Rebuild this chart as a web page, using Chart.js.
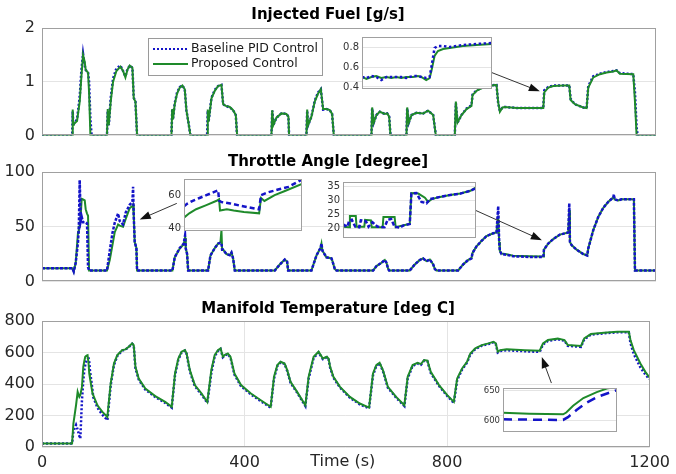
<!DOCTYPE html>
<html>
<head>
<meta charset="utf-8">
<script src="https://cdn.jsdelivr.net/npm/chart.js@4.4.1/dist/chart.umd.min.js"></script>
<style>
body{margin:0;background:#fff;}
#wrap{position:relative;width:676px;height:474px;overflow:hidden;background:#fff;}
canvas{position:absolute;}
</style>
</head>
<body>
<div id="wrap">
<canvas id="fuel" width="676" height="152" style="left:0;top:0"></canvas>
<canvas id="throttle" width="676" height="148" style="left:0;top:150px"></canvas>
<canvas id="temp" width="676" height="176" style="left:0;top:298px"></canvas>
<canvas id="fuelZoom" width="166" height="70" style="left:330px;top:28px"></canvas>
<canvas id="thrZoomA" width="146" height="70" style="left:160px;top:170px"></canvas>
<canvas id="thrZoomB" width="161" height="74" style="left:319px;top:173px"></canvas>
<canvas id="tempZoom" width="150" height="60" style="left:471px;top:380px"></canvas>
</div>
<script>
// ---- injected fuel [g/s]
let fuelTime = [0,59,60,61,62,68.5,73.7,76.9,80.2,83.5,85.4,90,92,94.6,97,
  127,128.5,130.5,134.3,138.9,145.4,153.2,158.4,163,166.9,171.4,176.7,179.3,182.6,185.8,
  253,254.5,256,259.4,264,269.2,274.4,279,282.2,286.2,290.1,
  322.7,324,325.5,331.2,337.7,344.2,350.7,354,359.2,367,373.5,378.7,381.3,
  448.4,450,452,458.2,468,477.7,481.6,482.9,
  516.8,518.3,520,526.6,533.1,539.6,544.9,549.4,556,562.5,567,570.3,
  643.9,645.2,648.4,653.7,660.2,670,674.6,678.5,681.1,
  712.3,713.7,716.9,722.2,731.9,745,754.7,764.5,769.7,
  806.8,808.8,812.1,819.9,829.7,839.4,841.4,849.2,855.7,862.2,875.3,885.1,888.3,891.6,894.9,900.1,904.7,927.5,953.6,979.7,
  981.6,989.4,999.2,1018.7,1030.5,1033.1,1041.5,1057.8,1064.4,1067.6,1077.4,1090.4,1103.5,1116.5,1123,1129.5,1155.6,1158.9,1162.1,1164,1200];
let fuelProposed = [0,0,0.48,0.2,0.21,0.27,0.63,1.08,1.5,1.37,1.22,1.17,0.8,0,0,
  0,0.49,0.19,0.63,1.0,1.2,1.28,1.2,1.08,1.22,1.3,1.26,0.69,0.63,0,
  0,0.49,0.3,0.58,0.78,0.89,0.93,0.86,0.47,0.24,0,
  0,0.48,0.25,0.69,0.83,0.92,0.94,0.58,0.55,0.53,0.47,0.38,0,
  0,0.47,0.19,0.33,0.41,0.4,0.35,0,
  0,0.48,0.19,0.35,0.63,0.78,0.86,0.49,0.49,0.47,0.4,0,
  0,0.52,0.24,0.38,0.44,0.4,0.41,0.35,0,
  0,0.52,0.24,0.38,0.42,0.41,0.46,0.38,0,
  0,0.63,0.24,0.38,0.49,0.55,0.75,0.83,0.86,0.89,0.92,0.94,0.94,0.61,0.44,0.52,0.53,0.51,0.51,0.51,
  0.8,0.89,0.92,0.93,0.93,0.66,0.58,0.52,0.51,0.89,1.08,1.14,1.17,1.19,1.21,1.15,1.14,0.63,0,0,0];
let fuelBaseline = [0,0,0.45,0.2,0.21,0.3,0.72,1.2,1.52,1.3,1.22,1.17,1.0,0.3,0,
  0,0.45,0.19,0.7,1.06,1.25,1.3,1.2,1.1,1.23,1.3,1.26,0.7,0.63,0,
  0,0.47,0.3,0.6,0.8,0.9,0.93,0.86,0.47,0.24,0,
  0,0.46,0.25,0.7,0.85,0.92,0.94,0.58,0.55,0.52,0.47,0.38,0,
  0,0.46,0.19,0.33,0.41,0.4,0.35,0,
  0,0.46,0.19,0.35,0.65,0.8,0.86,0.48,0.49,0.47,0.4,0,
  0,0.5,0.24,0.38,0.44,0.4,0.41,0.35,0,
  0,0.5,0.24,0.38,0.42,0.41,0.46,0.38,0,
  0,0.6,0.24,0.38,0.5,0.56,0.76,0.84,0.87,0.9,0.93,0.94,0.94,0.6,0.46,0.52,0.53,0.51,0.51,0.51,
  0.84,0.9,0.93,0.93,0.93,0.68,0.58,0.52,0.51,0.92,1.1,1.15,1.18,1.2,1.21,1.16,1.14,0.8,0.15,0,0];

// ---- throttle angle [degree]
let thrTime = [0,59.4,62,65.9,70.4,72,73.7,75.7,77.6,80.2,83.5,85.4,88,90,92,
  127,132.4,137.6,142.2,148.7,151.9,158.4,163.6,171.4,176.7,178,179.3,181.2,184.5,185.8,
  254.9,259.4,269.2,277,279.6,281,283.6,285.6,
  324.6,329.2,337.7,344.2,348.8,350.7,352,354,360.5,367,370.3,373.5,376.8,
  455,464.8,474.5,479.1,481,
  526.6,536.4,544.2,546.2,548.1,556,565.7,567.7,572.2,575.5,
  647.2,653.7,663.5,670,673.3,676.5,678.5,
  718.8,728.6,738.4,744.9,751.4,758,764.5,767.7,771,
  813.3,823.1,832.9,839.4,841.4,849.2,859,868.7,881.8,888.3,891.6,893.5,894.9,898.1,907.9,920.9,953.6,979.7,
  981,989.4,999.2,1012.2,1028.5,1030.5,1031.8,1035,1044.8,1057.8,1065.6,1067.6,1077.4,1087.2,1097,1106.8,
  1116.5,1117.8,1119,1126.3,1132.7,1156.8,1158.9,1200];
let thrBaseline = [12,12,9,17,36,50,92.6,55,59,54,54,54,53,12.8,10,
  10,27.8,44,53.7,62,55,52,63,70,72.8,86.4,60,36,30.5,10,
  10,22,30.5,34.6,42,30,25,10,
  10,23.7,30.5,34.6,35,35,29,29,25,24,26.4,21,10,
  10,15.5,20,18,10,
  10,23.7,30.5,34.6,28,22,21,18.5,11.4,10,
  10,14,17,19.6,17,11.4,10,
  10,15.5,19.6,21,18.5,20,15.5,11.4,10,
  10,15.5,19.6,21,26,32,37,41.4,44,44.7,68.7,36,27.8,25,24.3,23,22.3,22.3,
  29,34.6,38.7,42.8,44.7,71.4,36,33.2,29,25,23.7,30,46.9,59,67.3,72.8,
  76.8,79.6,75,74,75,75,10,10];
let thrProposed = [12,12,9,17,45,50,50,60,75.5,75,74,66,62,60,10,
  10,19.6,33,45,52,51,50,57,67,69,70,60,36,30.5,10,
  10,22,30,34,40,30,25,10,
  10,23.7,30.5,34.6,36,47,30,29,25,24,26.4,21,10,
  10,15.5,20,18,10,
  10,23.7,30.5,34.6,28,22,21,18.5,11.4,10,
  10,14,17,19.6,17,11.4,10,
  10,15.5,19.6,21,18.5,20,15.5,11.4,10,
  10,15.5,19.6,21,26,32,37,41.4,44,44.7,60,36,27.8,25.5,24.8,23.5,23,22.8,
  29,34.6,38.7,42.8,44.7,65,36,33.2,29,25,23.7,30,46.9,59,67.3,72.8,
  76.8,78,75,74,75,75,10,10];

// ---- manifold temperature [deg C]
let tempTime = [0,59.4,62,67.2,70.4,72.3,73.7,75.7,78.9,81.5,83.5,85.4,88,90,92,93.3,94.6,99.8,101.1,109.5,112.8,119.3,129.1,
  135.6,142.1,148.7,158.4,164.9,171.4,178,181.2,184.5,191,204,223.6,243.2,256.2,
  262.7,269.2,275.7,282.2,285.5,292,301.8,314.8,326.5,
  334.4,341,347.5,352.6,357.2,360.5,367,372.2,380,393,412.6,432.1,451.6,
  458.2,464.8,471.3,479.1,484.3,490.8,503.8,520.1,
  526.6,536.4,546.2,554.6,562.5,566,569,575.5,588.5,608.1,627.6,645.9,
  653.7,660.2,666.7,673.3,683,699.3,715.6,
  722.2,731.9,741.7,748.2,754.7,761.2,767.7,784,800.3,813.3,
  819.9,829.7,839.4,845.9,855.7,868.7,881.8,891.6,896.1,900.1,904.7,917.7,953.6,982.9,989.4,999.2,1018.7,1031.8,1038.3,
  1064.4,1070.9,1084,1110,1136.1,1158.9,1162.1,1168.7,1181.7,1191.5,1200];
let tempProposed = [22,22,148,265,350,330,318,330,382,509,545,573,580,583,530,467,440,340,330,265,250,223,191,
  403,530,583,615,620,637,658,647,509,435,371,323,286,255,
  467,562,605,615,595,488,393,340,286,
  488,583,615,626,573,583,594,573,467,393,340,297,255,
  446,520,541,530,488,414,350,265,
  446,573,605,562,573,560,509,446,382,318,276,250,
  467,520,535,488,382,318,265,
  446,520,535,526,552,548,477,393,329,286,
  435,499,541,594,626,647,658,668,658,605,615,620,615,611,658,679,688,679,647,
  641,690,717,726,732,732,679,615,530,477,440];
let tempBaseline = [22,22,100,140,110,85,70,53,297,420,488,520,552,560,562,540,490,360,318,250,233,205,170,
  390,520,578,612,618,635,655,645,500,428,365,318,280,250,
  455,555,600,612,592,480,386,334,280,
  470,575,610,622,570,580,590,568,460,386,334,291,250,
  435,515,538,527,482,408,345,260,
  435,565,600,558,570,555,503,440,377,313,271,245,
  455,515,532,482,377,313,260,
  435,515,530,522,548,544,470,388,324,280,
  425,492,536,588,622,643,654,664,654,600,610,614,608,604,650,674,684,675,642,
  636,684,713,722,728,728,660,590,505,460,430];

// ---- zoomed windows
let fuelZoomTime = [955,956.7,958.6,960.5,962.4,964.4,966.3,968.2,970.1,972.1,974.6,976.5,977.8,979.7,981,981.7,982.9,984.2,986.2,988.7,993.8,999,1005];
let fuelZoomProposed = [0.5,0.48,0.5,0.51,0.49,0.5,0.49,0.5,0.49,0.5,0.5,0.51,0.5,0.47,0.49,0.56,0.71,0.76,0.78,0.79,0.81,0.82,0.83];
let fuelZoomBaseline = [0.5,0.49,0.51,0.5,0.47,0.5,0.5,0.5,0.5,0.49,0.51,0.51,0.5,0.49,0.5,0.6,0.79,0.81,0.81,0.8,0.82,0.83,0.84];

let thrZoomABaseTime = [140,141.1,142.8,145,147.2,149.4,151,151.3,152.1,154.9,158.2,161.5,164.2,164.8,167,170.3,173.6,178];
let thrZoomABase = [53.2,54.9,56.6,58.3,60,61.7,63,56.6,55.8,55,53.6,52.4,51.5,60,61.7,63.4,65,69.5];
let thrZoomAPropTime = [140,141.7,143.9,147.2,150.5,151.3,151.6,153.8,156,159.3,164.2,164.8,165.9,169.2,172.5,178];
let thrZoomAProp = [46.4,49,51.5,54,56.6,57.5,50.7,51.5,50.7,49.8,49,58.3,56.5,60,62.5,66.8];

let thrZoomBBaseTime = [955,956.6,957.3,958.3,959.6,961.1,961.7,963.6,964.6,966.1,968,970.6,971.8,973.1,974.4,976.3,977.8,980.1,980.7,982.6,984.5,986.4,987.7,991.5,995.3,999.1,1002.9,1005];
let thrZoomBBase = [21.3,20.5,22.5,23,20.5,20.3,22.8,22.5,20.5,22.1,20.5,20.3,23,23.3,20.5,20.2,21,21.5,32.5,32.7,29.5,29,30.5,31.3,32,32.5,33.5,34.5];
let thrZoomBPropTime = [955,957.3,957.6,959.8,960.1,963,963.3,965.5,965.8,969.9,970.2,974.4,974.8,977.8,980.1,980.7,983.3,985.8,987,988.3,991.5,995.3,999.1,1002.9,1005];
let thrZoomBProp = [20.5,20.3,24.4,24.4,20.5,20.5,23,22.8,20.3,20.3,24,24,20.3,21,21.5,32.7,32.5,31,29.5,30.5,31.3,32,32.5,33.5,34.8];

let tempZoomPropTime = [960,969.2,981.1,982.2,984.6,988.2,992.9,996.4,1000];
let tempZoomProp = [613,611.5,610.6,613.5,625,638,648,654,657];
let tempZoomBaseTime = [960,981.1,982.8,985.8,989.3,992.9,997,1000];
let tempZoomBase = [602,601,605.8,617.8,630,639.4,646.6,651.4];

const BLUE = "#1414c8";
const GREEN = "#1e8a2a";
const FONT = "DejaVu Sans";
const GRID = "#e4e4e4";


function makePoints(t, v){
    return t.map(function(x, i){ return {x: x, y: v[i]}; });
}


// white plot area + grey box like matlab axes
const frame = {
    id: "frame",
    beforeDraw(chart){
        let a = chart.chartArea, c = chart.ctx;
        c.save();
        c.fillStyle = "#fff";
        c.fillRect(a.left, a.top, a.right - a.left, a.bottom - a.top);
        c.restore();
    },
    afterDatasetsDraw(chart){
        let a = chart.chartArea, c = chart.ctx;
        c.save();
        c.strokeStyle = "#a0a0a0";
        c.lineWidth = 1;
        c.strokeRect(Math.round(a.left) + 0.5, Math.round(a.top) + 0.5,
            Math.round(a.right - a.left) - 1, Math.round(a.bottom - a.top) - 1);
        c.restore();
    }
};


const arrows = {
    id: "arrows",
    afterDraw(chart, args, opts){
        let xs = chart.scales.x, ys = chart.scales.y, c = chart.ctx;
        (opts.list || []).forEach(function(a){
            let x1 = xs.getPixelForValue(a.from[0]), y1 = ys.getPixelForValue(a.from[1]);
            let x2 = xs.getPixelForValue(a.to[0]), y2 = ys.getPixelForValue(a.to[1]);
            let ang = Math.atan2(y2 - y1, x2 - x1);
            let cs = Math.cos(ang), sn = Math.sin(ang);
            c.save();
            c.strokeStyle = "#333";
            c.fillStyle = "#111";
            c.lineWidth = 1;
            c.beginPath();
            c.moveTo(x1, y1);
            c.lineTo(x2 - 8 * cs, y2 - 8 * sn);
            c.stroke();
            c.beginPath();
            c.moveTo(x2, y2);
            c.lineTo(x2 - 11 * cs + 4 * sn, y2 - 11 * sn - 4 * cs);
            c.lineTo(x2 - 11 * cs - 4 * sn, y2 - 11 * sn + 4 * cs);
            c.closePath();
            c.fill();
            c.restore();
        });
    }
};


const boxLegend = {
    id: "boxLegend",
    afterDraw(chart, args, opts){
        if(!opts.show) return;
        let c = chart.ctx;
        c.save();
        c.fillStyle = "#fff";
        c.strokeStyle = "#9a9a9a";
        c.lineWidth = 1;
        c.fillRect(opts.x, opts.y, opts.w, opts.h);
        c.strokeRect(opts.x + 0.5, opts.y + 0.5, opts.w, opts.h);
        let rows = chart.data.datasets;
        rows.forEach(function(ds, i){
            let y = opts.y + 11 + i * 15;
            c.strokeStyle = ds.borderColor;
            c.lineWidth = 2;
            c.setLineDash(ds.borderDash || []);
            c.beginPath();
            c.moveTo(opts.x + 5, y);
            c.lineTo(opts.x + 40, y);
            c.stroke();
            c.setLineDash([]);
            c.fillStyle = "#1a1a1a";
            c.font = "12.5px '" + FONT + "'";
            c.textBaseline = "middle";
            c.fillText(ds.label, opts.x + 43, y);
        });
        c.restore();
    }
};


const timeLabel = {
    id: "timeLabel",
    afterDraw(chart, args, opts){
        if(!opts.text) return;
        let a = chart.chartArea, c = chart.ctx;
        c.save();
        c.fillStyle = "#262626";
        c.font = "16px '" + FONT + "'";
        c.textAlign = "center";
        c.textBaseline = "middle";
        c.fillText(opts.text, (a.left + a.right) / 2 - 3, a.bottom + 15);
        c.restore();
    }
};


function mainChart(id, p){

    let blueSet = {
        label: "Baseline PID Control",
        data: makePoints(p.t, p.base),
        borderColor: BLUE,
        borderWidth: p.blueWidth,
        borderDash: p.blueDash,
        pointRadius: 0,
        tension: 0,
        order: p.blueTop ? 0 : 1
    };
    let greenSet = {
        label: "Proposed Control",
        data: makePoints(p.t, p.prop),
        borderColor: GREEN,
        borderWidth: 2,
        pointRadius: 0,
        tension: 0,
        order: p.blueTop ? 1 : 0
    };

    return new Chart(document.getElementById(id), {
        type: "line",
        data: {datasets: [blueSet, greenSet]},
        options: {
            responsive: false,
            animation: false,
            devicePixelRatio: 1,
            events: [],
            layout: {autoPadding: false, padding: {left: 0, right: 20, top: 0, bottom: p.padBottom}},
            plugins: {
                legend: {display: false},
                tooltip: {enabled: false},
                title: {
                    display: true,
                    text: p.title,
                    color: "#000",
                    font: {family: FONT, size: 15, weight: "bold"},
                    padding: p.titlePad
                },
                arrows: {list: p.arrows},
                boxLegend: p.legend || {show: false},
                timeLabel: {text: p.xTitle || ""}
            },
            scales: {
                x: {
                    type: "linear",
                    min: 0,
                    max: 1200,
                    ticks: {stepSize: 400, display: p.showX, color: "#262626",
                        font: {family: FONT, size: 16}, padding: 6, maxRotation: 0,
                        callback: function(v){ return String(v); }},
                    grid: {display: p.showX, color: GRID, drawTicks: false},
                    border: {display: false},
                    afterFit: function(s){ s.height = p.showX ? 27 : 0; }
                },
                y: {
                    min: p.yMin,
                    max: p.yMax,
                    ticks: {stepSize: p.yStep, color: "#262626", font: {family: FONT, size: 16}, padding: 7},
                    grid: {color: GRID, drawTicks: false},
                    border: {display: false},
                    afterFit: function(s){ s.width = 42; }
                }
            }
        },
        plugins: [frame, arrows, boxLegend, timeLabel]
    });

}


function insetChart(id, p){

    let blueSet = {
        label: "Baseline PID Control",
        data: makePoints(p.baseT, p.base),
        borderColor: BLUE,
        borderWidth: 2.5,
        borderDash: p.blueDash,
        pointRadius: 0,
        tension: 0,
        order: p.blueTop ? 0 : 1
    };
    let greenSet = {
        label: "Proposed Control",
        data: makePoints(p.propT, p.prop),
        borderColor: GREEN,
        borderWidth: 2,
        pointRadius: 0,
        tension: 0,
        order: p.blueTop ? 1 : 0
    };

    return new Chart(document.getElementById(id), {
        type: "line",
        data: {datasets: [blueSet, greenSet]},
        options: {
            responsive: false,
            animation: false,
            devicePixelRatio: 1,
            events: [],
            layout: {autoPadding: false, padding: {left: 0, right: 4, top: 4, bottom: 4}},
            plugins: {legend: {display: false}, tooltip: {enabled: false}},
            scales: {
                x: {type: "linear", display: false, min: p.xMin, max: p.xMax},
                y: {
                    min: p.yMin,
                    max: p.yMax,
                    afterBuildTicks: function(s){
                        s.ticks = p.yTicks.map(function(v){ return {value: v}; });
                    },
                    ticks: {color: "#333", font: {family: FONT, size: p.fontSize}, padding: 3},
                    grid: {color: GRID, drawTicks: false},
                    border: {display: false},
                    afterFit: function(s){ s.width = p.axisWidth; }
                }
            }
        },
        plugins: [frame]
    });

}


window.onload = function(){

    mainChart("fuel", {
        t: fuelTime, base: fuelBaseline, prop: fuelProposed,
        title: "Injected Fuel [g/s]", titlePad: {top: 6, bottom: 4}, padBottom: 4,
        yMin: 0, yMax: 2, yStep: 1, showX: false,
        blueTop: false, blueDash: [2, 2], blueWidth: 2.5,
        arrows: [{from: [879, 1.17], to: [973, 0.82]}],
        legend: {show: true, x: 148, y: 38, w: 174, h: 37}
    });

    mainChart("throttle", {
        t: thrTime, base: thrBaseline, prop: thrProposed,
        title: "Throttle Angle [degree]", titlePad: {top: 3, bottom: 1}, padBottom: 4,
        yMin: 0, yMax: 100, yStep: 50, showX: false,
        blueTop: true, blueDash: [3, 1.5], blueWidth: 2.5,
        arrows: [{from: [263.4, 71.3], to: [191, 56.6]}, {from: [848, 64.8], to: [977, 37.7]}]
    });

    mainChart("temp", {
        t: tempTime, base: tempBaseline, prop: tempProposed,
        title: "Manifold Temperature [deg C]", titlePad: {top: 2, bottom: 3}, padBottom: 0,
        yMin: 0, yMax: 800, yStep: 200, showX: true, xTitle: "Time (s)",
        blueTop: false, blueDash: [2, 2], blueWidth: 2.5,
        arrows: [{from: [1006, 406], to: [987, 571]}]
    });

    insetChart("fuelZoom", {
        baseT: fuelZoomTime, base: fuelZoomBaseline, propT: fuelZoomTime, prop: fuelZoomProposed,
        xMin: 955, xMax: 1005, yMin: 0.38, yMax: 0.9, yTicks: [0.4, 0.6, 0.8],
        axisWidth: 32, fontSize: 10, blueDash: [2.5, 2.5], blueTop: true
    });

    insetChart("thrZoomA", {
        baseT: thrZoomABaseTime, base: thrZoomABase, propT: thrZoomAPropTime, prop: thrZoomAProp,
        xMin: 140, xMax: 178, yMin: 38.3, yMax: 69.8, yTicks: [40, 60],
        axisWidth: 24, fontSize: 10, blueDash: [5, 3], blueTop: true
    });

    insetChart("thrZoomB", {
        baseT: thrZoomBBaseTime, base: thrZoomBBase, propT: thrZoomBPropTime, prop: thrZoomBProp,
        xMin: 955, xMax: 1005, yMin: 16.4, yMax: 36.7, yTicks: [20, 25, 30, 35],
        axisWidth: 24, fontSize: 10, blueDash: [4, 2], blueTop: true
    });

    insetChart("tempZoom", {
        baseT: tempZoomBaseTime, base: tempZoomBase, propT: tempZoomPropTime, prop: tempZoomProp,
        xMin: 960, xMax: 1000, yMin: 580.8, yMax: 654.8, yTicks: [600, 650],
        axisWidth: 32, fontSize: 8.5, blueDash: [9, 6], blueTop: false
    });

};
</script>
</body>
</html>
